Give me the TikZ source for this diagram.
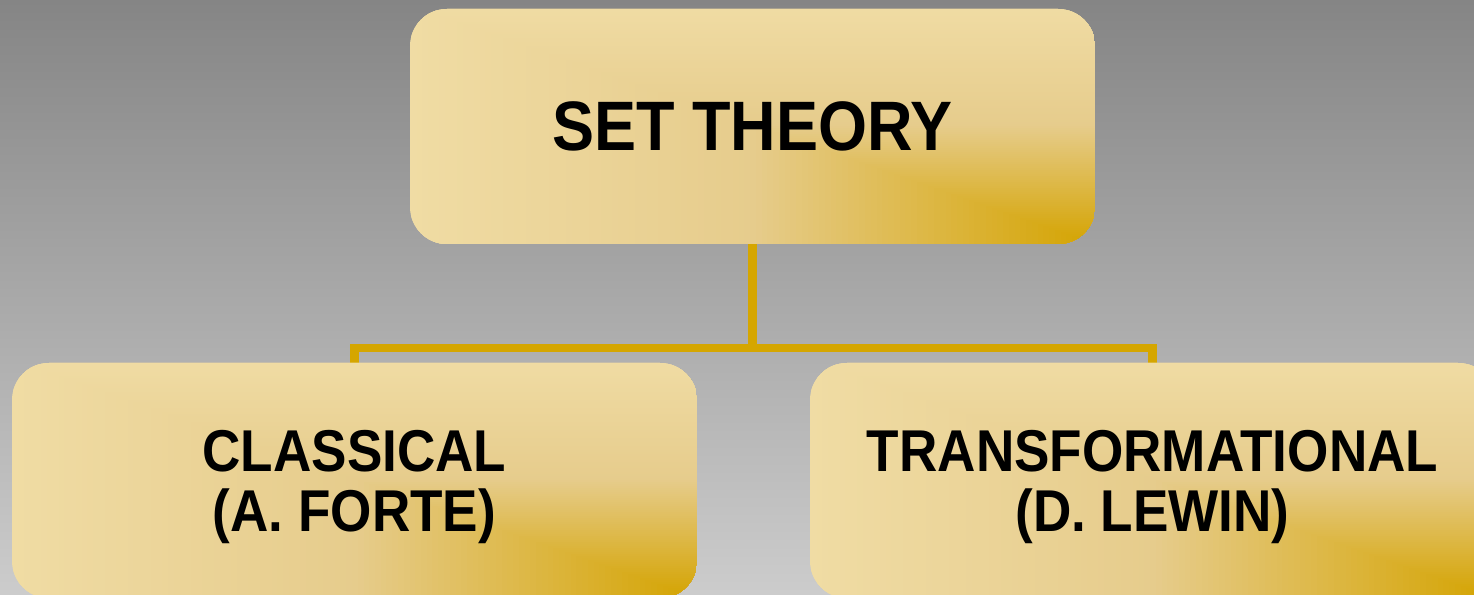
\documentclass[tikz,border=0pt]{standalone}
\usepackage{fontspec}
\newfontfamily\boxfont{Liberation Sans}[FakeStretch=0.9]
\definecolor{bgtop}{RGB}{133,133,133}
\definecolor{bgbot}{RGB}{204,204,204}
\definecolor{lightg}{RGB}{240,220,164}
\definecolor{midg}{RGB}{230,204,140}
\definecolor{goldg}{RGB}{212,163,0}
\definecolor{linecol}{RGB}{213,166,0}
\pgfdeclarelayer{bg}
\pgfdeclarelayer{lines}
\pgfsetlayers{bg,lines,main}
\tikzset{
  goldbox/.style={rectangle, rounded corners=37pt, minimum width=685pt,
    minimum height=235pt, inner sep=0pt, text depth=0pt, align=center, text=black,
    path picture={
      \foreach \k in {0,...,119}{
        \pgfmathsetmacro\d{1-\k/120}
        \ifdim\d pt<0.5pt
          \pgfmathsetmacro\p{\d*200}
          \colorlet{cc}{midg!\p!goldg}
        \else
          \pgfmathsetmacro\p{(\d-0.5)*200}
          \colorlet{cc}{lightg!\p!midg}
        \fi
        \fill[cc, sharp corners] (path picture bounding box.south east) rectangle ++({-\d*690pt},{\d*240pt});
      }
    }},
  bigtext/.style={font=\boxfont\bfseries\fontsize{70}{72}\selectfont},
  smalltext/.style={font=\boxfont\bfseries\fontsize{59}{60}\selectfont},
  conn/.style={draw=linecol, line width=8.5pt}
}
\begin{document}
\begin{tikzpicture}[x=1pt,y=1pt]
\useasboundingbox (0,0) rectangle (1474,594);
\begin{pgfonlayer}{bg}
  \shade[top color=bgtop, bottom color=bgbot] (0,0) rectangle (1474,594);
\end{pgfonlayer}
\node[goldbox, bigtext] (top) at (752.5,467.5) {SET THEORY};
\node[goldbox, smalltext] (left) at (354.5,113.5) {CLASSICAL\\(A. FORTE)};
\node[goldbox, smalltext] (right) at (1152.5,113.5) {TRANSFORMATIONAL\\(D. LEWIN)};
\coordinate (j) at (754.5,246);
\begin{pgfonlayer}{lines}
  \draw[conn] (top.south) -- (top.south |- j);
  \draw[conn] (left.north) |- (j) -| (right.north);
\end{pgfonlayer}
\end{tikzpicture}
\end{document}
